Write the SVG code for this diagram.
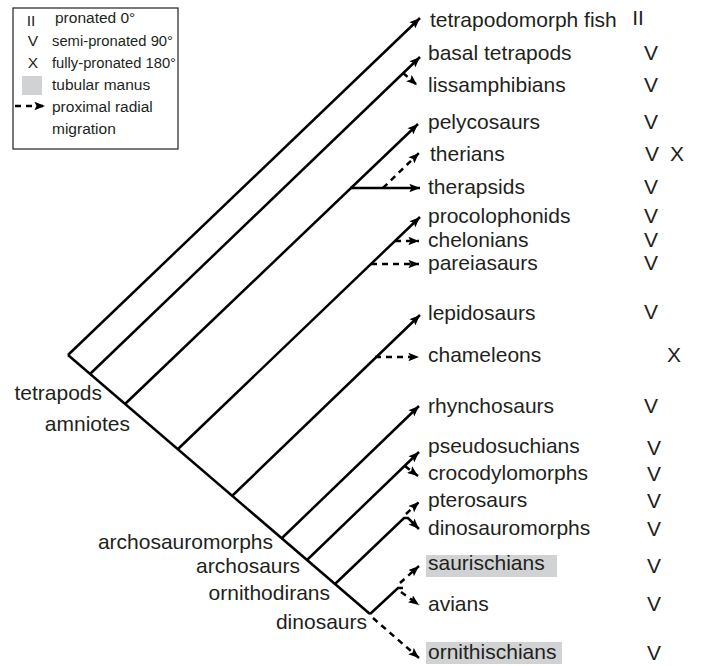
<svg xmlns="http://www.w3.org/2000/svg" width="702" height="666" viewBox="0 0 702 666">
<defs>
<marker id="ah" viewBox="0 0 10 8" refX="10" refY="4" markerWidth="11" markerHeight="8.5" orient="auto" markerUnits="userSpaceOnUse">
<path d="M0,0 L10,4 L0,8 L2,4 z" fill="#000"/>
</marker>
<style>
.t{font-family:"Liberation Sans",Arial,sans-serif;font-size:21px;fill:#231f20}
.lg{font-family:"Liberation Sans",Arial,sans-serif;font-size:15.5px;fill:#231f20}
.s{stroke:#000;stroke-width:2.5;fill:none;stroke-linecap:butt}
.d{stroke:#000;stroke-width:2.5;fill:none;stroke-dasharray:6 5}
.a{marker-end:url(#ah)}
.hl{fill:#d1d2d4}
</style>
</defs>
<rect width="702" height="666" fill="#fff"/>

<g id="legend">
<rect x="13" y="8" width="165" height="141" fill="#fff" stroke="#231f20" stroke-width="1.2"/>
<text class="lg" x="31" y="26" text-anchor="middle" font-size="12">II</text>
<text class="lg" x="55" y="23">pronated 0°</text>
<text class="lg" x="33" y="46" text-anchor="middle">V</text>
<text class="lg" x="52" y="46" textLength="121" lengthAdjust="spacingAndGlyphs">semi-pronated 90°</text>
<text class="lg" x="33" y="68" text-anchor="middle">X</text>
<text class="lg" x="52" y="68" textLength="124" lengthAdjust="spacingAndGlyphs">fully-pronated 180°</text>
<rect class="hl" x="22" y="76" width="20" height="19"/>
<text class="lg" x="52" y="90">tubular manus</text>
<line class="d a" x1="15" y1="106" x2="45" y2="106" stroke-width="2"/>
<text class="lg" x="52" y="112">proximal radial</text>
<text class="lg" x="52" y="134">migration</text>
</g>

<g id="connectors">
<polyline class="s" points="68,355 370,614"/>
<line class="s a" x1="68" y1="355" x2="420" y2="18"/>
<line class="s a" x1="90" y1="374" x2="420" y2="57"/>
<line class="d a" x1="403" y1="73" x2="417" y2="85"/>
<line class="s a" x1="125" y1="404" x2="418" y2="124"/>
<line class="s a" x1="350" y1="188" x2="420" y2="188"/>
<line class="d a" x1="383" y1="188" x2="419" y2="153"/>
<line class="s a" x1="178" y1="449" x2="420" y2="217"/>
<line class="d a" x1="395" y1="241" x2="419" y2="241"/>
<line class="d a" x1="371" y1="264" x2="419" y2="264"/>
<line class="s a" x1="232" y1="496" x2="420" y2="315"/>
<line class="d a" x1="375" y1="357" x2="419" y2="357"/>
<line class="s a" x1="282" y1="538" x2="419" y2="406"/>
<line class="s a" x1="307" y1="560" x2="419" y2="452"/>
<line class="d a" x1="405" y1="466" x2="418" y2="476"/>
<polyline class="s a" points="335,584 404,518 408,518 419,529"/>
<line class="d a" x1="406" y1="514" x2="419" y2="502"/>
<polyline class="s" points="370,614 398,588 403,588"/>
<line class="d a" x1="400" y1="583" x2="419" y2="566"/>
<line class="d a" x1="401" y1="592" x2="419" y2="605"/>
<line class="d a" x1="373" y1="618" x2="419" y2="658"/>
</g>

<g id="clade-labels">
<text class="t" x="102" y="400" text-anchor="end">tetrapods</text>
<text class="t" x="130" y="431" text-anchor="end">amniotes</text>
<text class="t" x="273" y="549" text-anchor="end">archosauromorphs</text>
<text class="t" x="300" y="573" text-anchor="end">archosaurs</text>
<text class="t" x="330" y="600" text-anchor="end">ornithodirans</text>
<text class="t" x="367" y="629" text-anchor="end">dinosaurs</text>
</g>

<g id="n-tetrapodomorph"><text class="t" x="430" y="27">tetrapodomorph fish</text><text class="t" x="638" y="25" text-anchor="middle" font-size="17">II</text></g>
<g id="n-basal"><text class="t" x="428" y="60">basal tetrapods</text><text class="t" x="651" y="60" text-anchor="middle">V</text></g>
<g id="n-lissamphibians"><text class="t" x="428" y="92">lissamphibians</text><text class="t" x="651" y="92" text-anchor="middle">V</text></g>
<g id="n-pelycosaurs"><text class="t" x="428" y="129">pelycosaurs</text><text class="t" x="651" y="129" text-anchor="middle">V</text></g>
<g id="n-therians"><text class="t" x="430" y="161">therians</text><text class="t" x="652" y="161" text-anchor="middle">V</text><text class="t" x="677" y="161" text-anchor="middle">X</text></g>
<g id="n-therapsids"><text class="t" x="428" y="194">therapsids</text><text class="t" x="651" y="194" text-anchor="middle">V</text></g>
<g id="n-procolophonids"><text class="t" x="428" y="223">procolophonids</text><text class="t" x="651" y="223" text-anchor="middle">V</text></g>
<g id="n-chelonians"><text class="t" x="428" y="247">chelonians</text><text class="t" x="651" y="247" text-anchor="middle">V</text></g>
<g id="n-pareiasaurs"><text class="t" x="428" y="270">pareiasaurs</text><text class="t" x="651" y="270" text-anchor="middle">V</text></g>
<g id="n-lepidosaurs"><text class="t" x="428" y="320">lepidosaurs</text><text class="t" x="651" y="319" text-anchor="middle">V</text></g>
<g id="n-chameleons"><text class="t" x="428" y="362">chameleons</text><text class="t" x="674" y="362" text-anchor="middle">X</text></g>
<g id="n-rhynchosaurs"><text class="t" x="428" y="413">rhynchosaurs</text><text class="t" x="651" y="413" text-anchor="middle">V</text></g>
<g id="n-pseudosuchians"><text class="t" x="428" y="453">pseudosuchians</text><text class="t" x="654" y="455" text-anchor="middle">V</text></g>
<g id="n-crocodylomorphs"><text class="t" x="428" y="480">crocodylomorphs</text><text class="t" x="654" y="481" text-anchor="middle">V</text></g>
<g id="n-pterosaurs"><text class="t" x="428" y="507">pterosaurs</text><text class="t" x="654" y="508" text-anchor="middle">V</text></g>
<g id="n-dinosauromorphs"><text class="t" x="428" y="535">dinosauromorphs</text><text class="t" x="654" y="536" text-anchor="middle">V</text></g>
<g id="n-saurischians"><rect class="hl" x="426" y="555" width="131" height="22"/><text class="t" x="428" y="570">saurischians</text><text class="t" x="654" y="573" text-anchor="middle">V</text></g>
<g id="n-avians"><text class="t" x="428" y="611">avians</text><text class="t" x="654" y="611" text-anchor="middle">V</text></g>
<g id="n-ornithischians"><rect class="hl" x="426" y="642" width="136" height="22"/><text class="t" x="428" y="659">ornithischians</text><text class="t" x="654" y="660" text-anchor="middle">V</text></g>
</svg>
